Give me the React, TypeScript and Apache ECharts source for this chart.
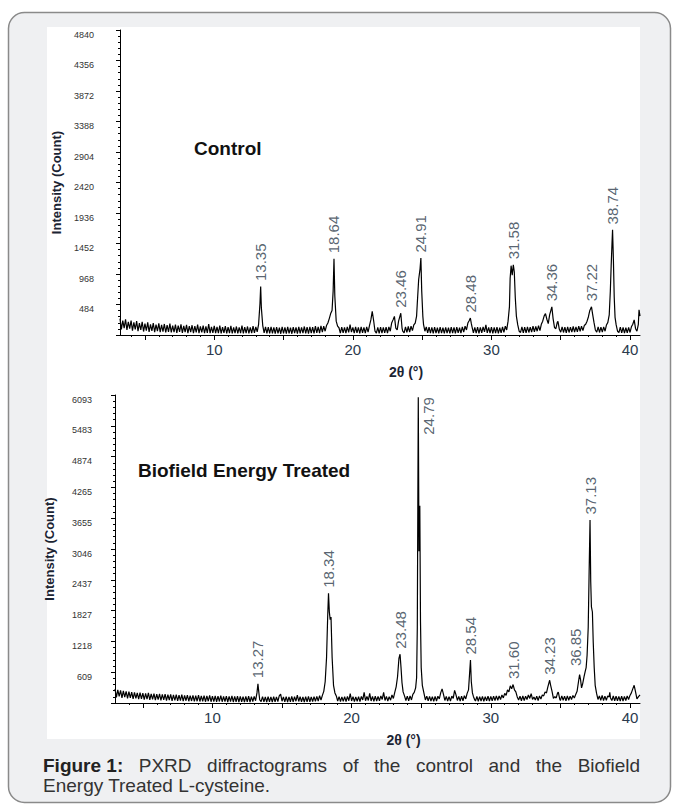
import React, { useEffect, useRef } from 'react';
import * as echarts from 'echarts';

// ---------- DATA ----------
// Control diffractogram: [2θ (°), intensity (count)]
const controlPattern: [number, number][] = [
  [3.2, 260], [3.3, 90], [3.4, 230], [3.5, 110], [3.6, 250], [3.7, 80], [3.8, 210], [3.9, 100], [4.0, 230], [4.1, 70],
  [4.2, 200], [4.3, 90], [4.4, 220], [4.5, 60], [4.6, 190], [4.7, 80], [4.8, 210], [4.9, 55], [5.0, 180], [5.1, 70],
  [5.2, 200], [5.3, 50], [5.4, 170], [5.5, 65], [5.6, 190], [5.7, 45], [5.8, 165], [5.9, 60], [6.0, 185], [6.1, 45],
  [6.2, 160], [6.3, 55], [6.4, 175], [6.5, 40], [6.6, 155], [6.7, 50], [6.8, 180], [6.9, 40], [7.0, 150], [7.1, 45],
  [7.2, 165], [7.3, 35], [7.4, 150], [7.5, 50], [7.6, 170], [7.7, 35], [7.8, 145], [7.9, 45], [8.0, 160], [8.1, 30],
  [8.2, 140], [8.3, 45], [8.4, 155], [8.5, 30], [8.6, 140], [8.7, 40], [8.8, 165], [8.9, 30], [9.0, 135], [9.1, 40],
  [9.2, 150], [9.3, 30], [9.4, 135], [9.5, 35], [9.6, 175], [9.7, 30], [9.8, 130], [9.9, 35], [10.0, 145], [10.1, 30],
  [10.2, 130], [10.3, 30], [10.4, 150], [10.5, 25], [10.6, 125], [10.7, 35], [10.8, 140], [10.9, 25], [11.0, 125], [11.1, 30],
  [11.2, 145], [11.3, 25], [11.4, 120], [11.5, 30], [11.6, 135], [11.7, 25], [11.8, 120], [11.9, 30], [12.0, 150], [12.1, 25],
  [12.2, 125], [12.3, 30], [12.4, 135], [12.5, 25], [12.6, 120], [12.7, 30], [12.8, 140], [12.9, 35], [13.0, 130], [13.1, 50],
  [13.2, 170], [13.3, 500], [13.35, 770], [13.4, 430], [13.5, 150], [13.6, 35], [13.7, 130], [13.8, 25], [13.9, 125], [14.0, 25],
  [14.1, 130], [14.2, 25], [14.3, 120], [14.4, 20], [14.5, 125], [14.6, 25], [14.7, 115], [14.8, 20], [14.9, 130], [15.0, 25],
  [15.1, 120], [15.2, 20], [15.3, 130], [15.4, 25], [15.5, 115], [15.6, 20], [15.7, 125], [15.8, 30], [15.9, 120], [16.0, 20],
  [16.1, 130], [16.2, 25], [16.3, 120], [16.4, 30], [16.5, 135], [16.6, 25], [16.7, 125], [16.8, 20], [16.9, 130], [17.0, 30],
  [17.1, 125], [17.2, 25], [17.3, 140], [17.4, 35], [17.5, 130], [17.6, 30], [17.7, 145], [17.8, 45], [17.9, 140], [18.0, 60],
  [18.1, 150], [18.2, 190], [18.3, 260], [18.4, 340], [18.5, 390], [18.58, 700], [18.64, 1210], [18.7, 620], [18.8, 220], [18.9, 140],
  [19.0, 115], [19.1, 30], [19.2, 125], [19.3, 35], [19.4, 120], [19.5, 30], [19.6, 130], [19.7, 40], [19.8, 165], [19.9, 45],
  [20.0, 120], [20.1, 30], [20.2, 130], [20.3, 35], [20.4, 120], [20.5, 25], [20.6, 130], [20.7, 35], [20.8, 120], [20.9, 30],
  [21.0, 130], [21.1, 45], [21.2, 150], [21.3, 240], [21.4, 375], [21.5, 230], [21.6, 60], [21.7, 30], [21.8, 120], [21.9, 25],
  [22.0, 125], [22.1, 30], [22.2, 120], [22.3, 35], [22.4, 125], [22.5, 30], [22.6, 130], [22.7, 60], [22.8, 190], [22.9, 240],
  [23.0, 295], [23.1, 110], [23.2, 80], [23.3, 220], [23.4, 300], [23.46, 345], [23.55, 110], [23.6, 60], [23.7, 35], [23.8, 130],
  [23.9, 40], [24.0, 135], [24.1, 45], [24.2, 140], [24.3, 70], [24.4, 160], [24.5, 190], [24.6, 300], [24.65, 500], [24.75, 880],
  [24.85, 1050], [24.91, 1220], [24.97, 700], [25.05, 300], [25.1, 170], [25.2, 60], [25.3, 130], [25.4, 35], [25.5, 125], [25.6, 30],
  [25.7, 120], [25.8, 25], [25.9, 125], [26.0, 30], [26.1, 115], [26.2, 25], [26.3, 125], [26.4, 30], [26.5, 115], [26.6, 25],
  [26.7, 120], [26.8, 30], [26.9, 115], [27.0, 25], [27.1, 125], [27.2, 30], [27.3, 120], [27.4, 25], [27.5, 125], [27.6, 35],
  [27.7, 115], [27.8, 30], [27.9, 130], [28.0, 45], [28.1, 140], [28.2, 80], [28.3, 190], [28.4, 230], [28.48, 270], [28.55, 180],
  [28.6, 130], [28.7, 35], [28.8, 120], [28.9, 30], [29.0, 125], [29.1, 25], [29.2, 120], [29.3, 35], [29.4, 130], [29.5, 50],
  [29.6, 160], [29.7, 35], [29.8, 120], [29.9, 30], [30.0, 125], [30.1, 25], [30.2, 120], [30.3, 30], [30.4, 125], [30.5, 25],
  [30.6, 115], [30.7, 35], [30.8, 130], [30.9, 40], [31.0, 140], [31.1, 80], [31.2, 220], [31.3, 450], [31.35, 900], [31.42, 1100],
  [31.5, 950], [31.58, 1115], [31.65, 1000], [31.72, 600], [31.8, 300], [31.9, 160], [32.0, 60], [32.1, 40], [32.2, 130], [32.3, 35],
  [32.4, 125], [32.5, 35], [32.6, 130], [32.7, 40], [32.8, 125], [32.9, 45], [33.0, 140], [33.1, 50], [33.2, 135], [33.3, 60],
  [33.4, 150], [33.5, 70], [33.6, 170], [33.7, 220], [33.8, 300], [33.9, 340], [34.0, 250], [34.1, 180], [34.2, 320], [34.3, 400],
  [34.36, 447], [34.45, 260], [34.55, 120], [34.65, 100], [34.75, 200], [34.8, 215], [34.9, 90], [35.0, 45], [35.1, 130], [35.2, 40],
  [35.3, 125], [35.4, 35], [35.5, 130], [35.6, 40], [35.7, 125], [35.8, 45], [35.9, 135], [36.0, 45], [36.1, 130], [36.2, 50],
  [36.3, 140], [36.4, 60], [36.5, 140], [36.6, 70], [36.7, 150], [36.8, 170], [36.9, 220], [37.0, 290], [37.1, 390], [37.22, 447],
  [37.3, 330], [37.4, 200], [37.5, 80], [37.6, 45], [37.7, 130], [37.8, 40], [37.9, 125], [38.0, 45], [38.1, 130], [38.2, 60],
  [38.3, 160], [38.4, 200], [38.5, 320], [38.58, 700], [38.64, 1100], [38.7, 1450], [38.74, 1668], [38.8, 1200], [38.86, 600], [38.92, 280],
  [39.0, 160], [39.1, 60], [39.2, 40], [39.3, 125], [39.4, 35], [39.5, 120], [39.6, 30], [39.7, 115], [39.8, 35], [39.9, 120],
  [40.0, 40], [40.1, 130], [40.2, 170], [40.3, 240], [40.4, 100], [40.5, 60], [40.6, 170], [40.65, 400], [40.72, 300],
];

// Biofield Energy Treated diffractogram: [2θ (°), intensity (count)]
const treatedPattern: [number, number][] = [
  [3.0, 280], [3.1, 110], [3.2, 260], [3.3, 130], [3.4, 250], [3.5, 100], [3.6, 240], [3.7, 115], [3.8, 230], [3.9, 90],
  [4.0, 225], [4.1, 100], [4.2, 215], [4.3, 80], [4.4, 210], [4.5, 90], [4.6, 200], [4.7, 75], [4.8, 205], [4.9, 80],
  [5.0, 195], [5.1, 65], [5.2, 190], [5.3, 75], [5.4, 200], [5.5, 60], [5.6, 180], [5.7, 70], [5.8, 185], [5.9, 55],
  [6.0, 175], [6.1, 65], [6.2, 180], [6.3, 50], [6.4, 170], [6.5, 60], [6.6, 175], [6.7, 45], [6.8, 165], [6.9, 55],
  [7.0, 170], [7.1, 40], [7.2, 160], [7.3, 50], [7.4, 165], [7.5, 40], [7.6, 155], [7.7, 45], [7.8, 165], [7.9, 35],
  [8.0, 150], [8.1, 45], [8.2, 155], [8.3, 35], [8.4, 145], [8.5, 40], [8.6, 150], [8.7, 30], [8.8, 145], [8.9, 35],
  [9.0, 155], [9.1, 30], [9.2, 140], [9.3, 35], [9.4, 145], [9.5, 25], [9.6, 140], [9.7, 35], [9.8, 150], [9.9, 25],
  [10.0, 135], [10.1, 30], [10.2, 140], [10.3, 25], [10.4, 135], [10.5, 30], [10.6, 145], [10.7, 25], [10.8, 130], [10.9, 30],
  [11.0, 135], [11.1, 20], [11.2, 130], [11.3, 30], [11.4, 140], [11.5, 20], [11.6, 130], [11.7, 25], [11.8, 135], [11.9, 20],
  [12.0, 130], [12.1, 25], [12.2, 125], [12.3, 20], [12.4, 130], [12.5, 25], [12.6, 135], [12.7, 20], [12.8, 125], [12.9, 30],
  [13.0, 130], [13.1, 45], [13.2, 200], [13.27, 382], [13.33, 220], [13.4, 60], [13.5, 30], [13.6, 125], [13.7, 25], [13.8, 120],
  [13.9, 20], [14.0, 125], [14.1, 25], [14.2, 120], [14.3, 20], [14.4, 125], [14.5, 25], [14.6, 120], [14.7, 30], [14.8, 140],
  [14.9, 175], [15.0, 35], [15.1, 120], [15.2, 25], [15.3, 125], [15.4, 20], [15.5, 120], [15.6, 25], [15.7, 130], [15.8, 25],
  [15.9, 125], [16.0, 35], [16.1, 155], [16.2, 30], [16.3, 125], [16.4, 25], [16.5, 120], [16.6, 20], [16.7, 125], [16.8, 25],
  [16.9, 130], [17.0, 25], [17.1, 120], [17.2, 30], [17.3, 125], [17.4, 35], [17.5, 130], [17.6, 40], [17.7, 145], [17.8, 60],
  [17.9, 150], [18.0, 230], [18.1, 420], [18.2, 900], [18.28, 1700], [18.34, 2170], [18.4, 1800], [18.46, 1650], [18.52, 1700], [18.6, 900],
  [18.7, 350], [18.8, 200], [18.9, 140], [19.0, 40], [19.1, 125], [19.2, 30], [19.3, 120], [19.4, 35], [19.5, 125], [19.6, 30],
  [19.7, 130], [19.8, 45], [19.9, 185], [20.0, 40], [20.1, 125], [20.2, 30], [20.3, 120], [20.4, 35], [20.5, 125], [20.6, 30],
  [20.7, 130], [20.8, 60], [20.9, 210], [21.0, 45], [21.1, 130], [21.2, 50], [21.3, 190], [21.4, 40], [21.5, 130], [21.6, 35],
  [21.7, 135], [21.8, 40], [21.9, 130], [22.0, 45], [22.1, 140], [22.2, 70], [22.3, 210], [22.4, 50], [22.5, 130], [22.6, 40],
  [22.7, 125], [22.8, 55], [22.9, 160], [23.0, 90], [23.1, 210], [23.2, 320], [23.3, 520], [23.4, 880], [23.48, 965], [23.55, 700],
  [23.62, 400], [23.7, 220], [23.8, 140], [23.9, 50], [24.0, 135], [24.1, 45], [24.2, 140], [24.3, 60], [24.4, 170], [24.5, 210],
  [24.6, 300], [24.67, 500], [24.72, 1500], [24.79, 6050], [24.84, 3000], [24.9, 3900], [24.95, 1600], [25.0, 700], [25.08, 350], [25.2, 190],
  [25.3, 60], [25.4, 135], [25.5, 45], [25.6, 130], [25.7, 40], [25.8, 125], [25.9, 35], [26.0, 130], [26.1, 40], [26.2, 135],
  [26.3, 80], [26.4, 200], [26.5, 280], [26.6, 170], [26.7, 50], [26.8, 130], [26.9, 40], [27.0, 125], [27.1, 40], [27.2, 135],
  [27.3, 90], [27.4, 250], [27.5, 160], [27.6, 50], [27.7, 130], [27.8, 40], [27.9, 135], [28.0, 45], [28.1, 145], [28.2, 80],
  [28.3, 190], [28.4, 260], [28.48, 600], [28.54, 850], [28.6, 420], [28.68, 200], [28.75, 130], [28.85, 60], [28.9, 40], [29.0, 130],
  [29.1, 35], [29.2, 125], [29.3, 40], [29.4, 130], [29.5, 35], [29.6, 125], [29.7, 45], [29.8, 135], [29.9, 40], [30.0, 130],
  [30.1, 45], [30.2, 135], [30.3, 50], [30.4, 140], [30.5, 55], [30.6, 140], [30.7, 70], [30.8, 160], [30.9, 100], [31.0, 190],
  [31.1, 150], [31.2, 260], [31.3, 220], [31.4, 340], [31.5, 280], [31.6, 365], [31.7, 260], [31.8, 220], [31.9, 120], [32.0, 60],
  [32.1, 135], [32.2, 45], [32.3, 140], [32.4, 50], [32.5, 135], [32.6, 70], [32.7, 160], [32.8, 90], [32.9, 185], [33.0, 70],
  [33.1, 120], [33.2, 60], [33.3, 135], [33.4, 50], [33.5, 140], [33.6, 80], [33.7, 160], [33.8, 140], [33.9, 220], [34.0, 200],
  [34.1, 320], [34.2, 420], [34.23, 450], [34.3, 350], [34.4, 230], [34.5, 90], [34.6, 125], [34.7, 100], [34.8, 200], [34.85, 215],
  [34.95, 80], [35.0, 50], [35.1, 140], [35.2, 55], [35.3, 135], [35.4, 45], [35.5, 140], [35.6, 55], [35.7, 135], [35.8, 70],
  [35.9, 150], [36.0, 100], [36.1, 170], [36.2, 230], [36.3, 420], [36.38, 560], [36.45, 460], [36.52, 300], [36.6, 380], [36.7, 520],
  [36.78, 620], [36.85, 700], [36.92, 950], [37.0, 1500], [37.06, 2500], [37.13, 3620], [37.18, 2400], [37.23, 1900], [37.3, 1800], [37.36, 1200],
  [37.43, 700], [37.5, 350], [37.6, 190], [37.7, 70], [37.8, 140], [37.9, 55], [38.0, 150], [38.1, 50], [38.2, 135], [38.3, 55],
  [38.4, 140], [38.5, 120], [38.55, 210], [38.6, 100], [38.7, 50], [38.8, 140], [38.9, 45], [39.0, 135], [39.1, 45], [39.2, 130],
  [39.3, 40], [39.4, 135], [39.5, 40], [39.6, 130], [39.7, 50], [39.8, 140], [39.9, 70], [40.0, 150], [40.1, 200], [40.2, 280],
  [40.3, 350], [40.4, 220], [40.5, 80], [40.6, 120], [40.72, 160],
];

const controlPeakTheta = [13.35, 18.64, 23.46, 24.91, 28.48, 31.58, 34.36, 37.22, 38.74];
const controlPeakCount = [770, 1210, 345, 1220, 270, 1115, 447, 447, 1668];
const controlPeakLabels = ['13.35', '18.64', '23.46', '24.91', '28.48', '31.58', '34.36', '37.22', '38.74'];

const treatedPeakTheta = [13.27, 18.34, 23.48, 24.79, 28.54, 31.6, 34.23, 36.85, 37.13];
const treatedPeakCount = [382, 2170, 965, 6050, 850, 365, 450, 700, 3620];
const treatedPeakLabels = ['13.27', '18.34', '23.48', '24.79', '28.54', '31.60', '34.23', '36.85', '37.13'];

const controlYTickLabels = ['484', '968', '1452', '1936', '2420', '2904', '3388', '3872', '4356', '4840'];
const treatedYTickLabels = ['609', '1218', '1827', '2437', '3046', '3655', '4265', '4874', '5483', '6093'];
const xTickLabels = [10, 20, 30, 40];
const xMajorTicks = [5, 10, 15, 20, 25, 30, 35, 40];
const xMinorTicks = [4, 5, 6, 7, 8, 9, 10, 11, 12, 13, 14, 15, 16, 17, 18, 19, 20, 21, 22, 23, 24, 25, 26, 27,
  28, 29, 30, 31, 32, 33, 34, 35, 36, 37, 38, 39, 40];

const panelTitles = ['Control', 'Biofield Energy Treated'];
const captionBold = 'Figure 1:';
const captionLine1 = 'PXRD diffractograms of the control and the Biofield';
const captionLine2 = 'Energy Treated L-cysteine.';

// ---------- STYLE ----------
const FONT = '"Liberation Sans", Arial, sans-serif';
const NARROW = '"Liberation Sans Narrow", "Liberation Sans", Arial, sans-serif';

export default function App() {
  const ref = useRef<HTMLDivElement>(null);

  useEffect(() => {
    if (!ref.current) return;
    const chart = echarts.init(ref.current, undefined, { renderer: 'svg' });

    const grids = [
      { left: 120, width: 520, top: 30, height: 305, xMin: 3.2, yMax: 4840, yInt: 484, yLabels: controlYTickLabels, nameGap: 55, labelMargin: 26 },
      { left: 115, width: 525, top: 395, height: 308, xMin: 3.0, yMax: 6093, yInt: 609.3, yLabels: treatedYTickLabels, nameGap: 59, labelMargin: 23 },
    ];

    const xAxes: any[] = [];
    const yAxes: any[] = [];
    grids.forEach((g, gi) => {
      xAxes.push({
        type: 'value', gridIndex: gi, min: g.xMin, max: 40.72,
        axisLine: { show: true, onZero: false, lineStyle: { color: '#000', width: 1 } },
        splitLine: { show: false },
        axisTick: { show: true, customValues: xMajorTicks, length: 5, lineStyle: { color: '#000' } },
        axisLabel: { customValues: xTickLabels, margin: 7, fontSize: 15, color: '#2b3a4d', fontFamily: FONT },
        name: '2θ (°)', nameLocation: 'middle', nameGap: 30,
        nameTextStyle: { fontWeight: 'bold', fontSize: 14, color: '#1b2433', fontFamily: NARROW, padding: [0, 0, 0, 52] },
      });
      xAxes.push({
        type: 'value', gridIndex: gi, min: g.xMin, max: 40.72, position: 'bottom', offset: 3,
        axisLine: { show: false }, splitLine: { show: false },
        axisTick: { show: true, customValues: xMinorTicks, length: 2, lineStyle: { color: '#000' } },
        axisLabel: { show: false },
      });
      yAxes.push({
        type: 'value', gridIndex: gi, min: 0, max: g.yMax, interval: g.yInt,
        axisLine: { show: true, lineStyle: { color: '#000', width: 1 } },
        axisTick: { show: true, length: 4, lineStyle: { color: '#000' } },
        minorTick: { show: true, splitNumber: 5, length: 2, lineStyle: { color: '#000' } },
        splitLine: { show: false }, minorSplitLine: { show: false },
        axisLabel: {
          formatter: (v: number) => {
            const k = Math.round(v / g.yInt);
            return k === 0 ? '' : g.yLabels[k - 1];
          },
          fontSize: 9, color: '#333', margin: g.labelMargin, fontFamily: NARROW, verticalAlign: 'top',
        },
        name: 'Intensity (Count)', nameLocation: 'middle', nameGap: g.nameGap, nameRotate: 90,
        nameTextStyle: { fontWeight: 'bold', fontSize: 13, color: '#1b2433', fontFamily: FONT },
      });
    });

    const peakLabel = {
      show: true, position: 'top', distance: 5, rotate: 90, align: 'left', verticalAlign: 'middle',
      fontSize: 15, color: '#2d3b4b', fontFamily: FONT,
    };

    const controlPeaks = controlPeakTheta.map((t, i) => ({
      value: [t, controlPeakCount[i]],
      label: { formatter: controlPeakLabels[i] },
    }));
    const treatedPeaks = treatedPeakTheta.map((t, i) => {
      const item: any = { value: [t, treatedPeakCount[i]], label: { formatter: treatedPeakLabels[i] } };
      if (treatedPeakLabels[i] === '24.79') {
        item.label = { formatter: treatedPeakLabels[i], position: 'right', distance: 10, align: 'right', verticalAlign: 'middle' };
      }
      if (treatedPeakLabels[i] === '36.85') {
        // offset is in the label's rotated frame: [-4 → 4px lower, -11 → 11px left]
        item.label = { formatter: treatedPeakLabels[i], offset: [-4, -11] };
      }
      return item;
    });

    // caption layout (justified first line)
    const cv = document.createElement('canvas').getContext('2d')!;
    const capSize = 19;
    const words = captionLine1.split(' ');
    cv.font = `bold ${capSize}px "Liberation Sans"`;
    const wBold = cv.measureText(captionBold).width;
    cv.font = `${capSize}px "Liberation Sans"`;
    const wWords = words.map((w) => cv.measureText(w).width);
    const capLeft = 43, capRight = 640;
    const totalW = wBold + wWords.reduce((a, b) => a + b, 0);
    const gap = (capRight - capLeft - totalW) / words.length;
    const capY1 = 765, capY2 = 785;
    const captionEls: any[] = [
      { type: 'text', x: capLeft, y: capY1, silent: true, style: { text: captionBold, fontSize: capSize, fontWeight: 'bold', fontFamily: FONT, fill: '#222', verticalAlign: 'middle', align: 'left' } },
    ];
    let cx = capLeft + wBold + gap;
    words.forEach((w, i) => {
      captionEls.push({ type: 'text', x: cx, y: capY1, silent: true, style: { text: w, fontSize: capSize, fontFamily: FONT, fill: '#333', verticalAlign: 'middle', align: 'left' } });
      cx += wWords[i] + gap;
    });
    captionEls.push({ type: 'text', x: capLeft, y: capY2, silent: true, style: { text: captionLine2, fontSize: capSize, fontFamily: FONT, fill: '#333', verticalAlign: 'middle', align: 'left' } });

    const option: any = {
      animation: false,
      backgroundColor: 'transparent',
      grid: grids.map((g) => ({ left: g.left, width: g.width, top: g.top, height: g.height, containLabel: false })),
      xAxis: xAxes,
      yAxis: yAxes,
      graphic: [
        { type: 'rect', z: -20, silent: true, shape: { x: 8.5, y: 12.5, width: 662, height: 790, r: 16 }, style: { fill: '#eff0f2', stroke: '#8a8a8a', lineWidth: 1.5 } },
        { type: 'rect', z: -19, silent: true, shape: { x: 47, y: 27, width: 593, height: 712 }, style: { fill: '#ffffff' } },
        { type: 'text', x: 194, y: 148, silent: true, style: { text: panelTitles[0], fontSize: 19, fontWeight: 'bold', fontFamily: FONT, fill: '#111', verticalAlign: 'middle', align: 'left' } },
        { type: 'text', x: 138, y: 470, silent: true, style: { text: panelTitles[1], fontSize: 19, fontWeight: 'bold', fontFamily: FONT, fill: '#111', verticalAlign: 'middle', align: 'left' } },
        ...captionEls,
      ],
      series: [
        { type: 'line', xAxisIndex: 0, yAxisIndex: 0, data: controlPattern, showSymbol: false, symbol: 'none', lineStyle: { color: '#000', width: 1.2 }, clip: true, silent: true },
        { type: 'line', xAxisIndex: 2, yAxisIndex: 1, data: treatedPattern, showSymbol: false, symbol: 'none', lineStyle: { color: '#000', width: 1.2 }, clip: true, silent: true },
        { type: 'scatter', xAxisIndex: 0, yAxisIndex: 0, data: controlPeaks, symbolSize: 1, itemStyle: { color: 'rgba(0,0,0,0)' }, label: peakLabel, silent: true },
        { type: 'scatter', xAxisIndex: 2, yAxisIndex: 1, data: treatedPeaks, symbolSize: 1, itemStyle: { color: 'rgba(0,0,0,0)' }, label: peakLabel, silent: true },
      ],
    };

    chart.setOption(option);
    return () => chart.dispose();
  }, []);

  return <div ref={ref} style={{ position: 'absolute', left: 0, top: 0, width: 673, height: 807 }} />;
}
